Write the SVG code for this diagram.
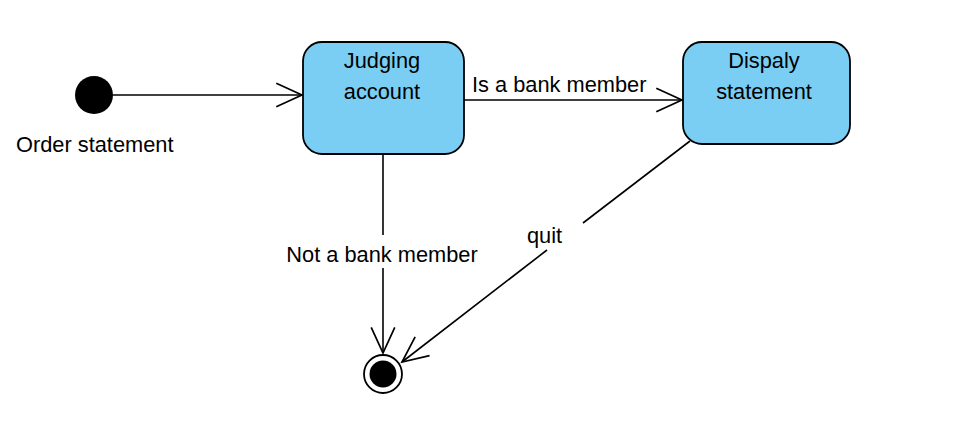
<svg xmlns="http://www.w3.org/2000/svg" width="961" height="430" viewBox="0 0 961 430">
<style>
text{font-family:"Liberation Sans",Arial,sans-serif;font-size:21.8px;fill:#000}
.state{fill:#7ACEF4;stroke:#000;stroke-width:1.8}
.edge{fill:none;stroke:#000;stroke-width:1.6}
.mid{text-anchor:middle}
</style>
<defs>
<marker id="open" markerUnits="userSpaceOnUse" markerWidth="30" markerHeight="30" viewBox="-26 -13 28 26" refX="0" refY="0" orient="auto">
<path d="M-24,-11 L0,0 L-24,11" fill="none" stroke="#000" stroke-width="1.6"/>
</marker>
</defs>
<rect width="961" height="430" fill="#fff"/>
<g id="connectors">
<line class="edge" x1="113" y1="95" x2="302" y2="95" marker-end="url(#open)"/>
<line class="edge" x1="463" y1="100" x2="682" y2="100" marker-end="url(#open)"/>
<text x="472" y="92">Is a bank member</text>
<line class="edge" x1="383" y1="154" x2="383" y2="235"/>
<line class="edge" x1="383" y1="268" x2="383" y2="353" marker-end="url(#open)"/>
<text class="mid" x="382" y="262">Not a bank member</text>
<line class="edge" x1="690" y1="141" x2="583" y2="223"/>
<line class="edge" x1="547" y1="250" x2="402" y2="362" marker-end="url(#open)"/>
<text x="527" y="243">quit</text>
</g>
<g id="initial">
<circle cx="94" cy="95" r="19" fill="#000"/>
<text x="16" y="152">Order statement</text>
</g>
<g id="judging">
<rect class="state" x="303" y="42" width="161" height="112" rx="19"/>
<text class="mid" x="382" y="68">Judging</text>
<text class="mid" x="382" y="99">account</text>
</g>
<g id="display">
<rect class="state" x="683" y="42" width="167" height="102" rx="19"/>
<text class="mid" x="764" y="68">Dispaly</text>
<text class="mid" x="764" y="99">statement</text>
</g>
<g id="final">
<circle cx="383" cy="374" r="19" fill="#fff" stroke="#000" stroke-width="1.8"/>
<circle cx="383" cy="374" r="13.5" fill="#000"/>
</g>
</svg>
